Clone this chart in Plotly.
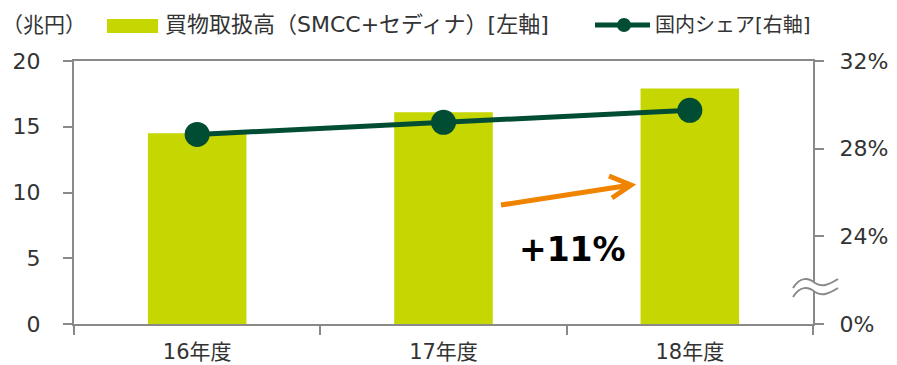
import plotly.graph_objects as go

# --- data ---
years = ["16年度", "17年度", "18年度"]
volume = [14.5, 16.1, 17.9]          # 買物取扱高（兆円）
share = [28.65, 29.2, 29.75]         # 国内シェア（%）
left_ticks = [0, 5, 10, 15, 20]
right_tickvals = [20, 24, 28, 32]
right_ticktext = ["0%", "24%", "28%", "32%"]
growth_label = "+11%"
bar_name = "買物取扱高（SMCC+セディナ）[左軸]"
line_name = "国内シェア[右軸]"
unit_label = "（兆円）"

BAR = "#c5d600"
LINE = "#004d33"
AXIS = "#898989"
TXT = "#333333"
ORANGE = "#f08300"
FONT = "DejaVu Sans, Noto Sans CJK JP, sans-serif"

W, H = 897, 365
L, R, T, B = 74, 84, 61, 41
PW, PH = W - L - R, H - T - B


def px(x):
    return (x - L) / PW


def py(y):
    return (H - B - y) / PH


fig = go.Figure()
fig.add_trace(go.Bar(x=years, y=volume, marker=dict(color=BAR, line_width=0),
                     width=0.4, name=bar_name, showlegend=False))
fig.add_trace(go.Scatter(x=years, y=share, yaxis="y2", mode="lines+markers",
                         line=dict(color=LINE, width=5),
                         marker=dict(color=LINE, size=25),
                         name=line_name, showlegend=False))

shapes = []
annotations = []

# legend: bar swatch + text
shapes.append(dict(type="rect", xref="paper", yref="paper",
                   x0=px(107), x1=px(158), y0=py(33), y1=py(19),
                   fillcolor=BAR, line_width=0))
annotations.append(dict(text=bar_name, xref="paper", yref="paper",
                        x=px(163), y=py(25), xanchor="left", yanchor="middle",
                        showarrow=False, font=dict(size=22, color=TXT, family=FONT)))
# legend: line swatch + text
shapes.append(dict(type="line", xref="paper", yref="paper",
                   x0=px(595), x1=px(650), y0=py(25), y1=py(25),
                   line=dict(color=LINE, width=5)))
shapes.append(dict(type="circle", xref="paper", yref="paper",
                   x0=px(617), x1=px(631), y0=py(32), y1=py(18),
                   fillcolor=LINE, line_width=0))
annotations.append(dict(text=line_name, xref="paper", yref="paper",
                        x=px(653), y=py(25), xanchor="left", yanchor="middle",
                        showarrow=False, font=dict(size=20, color=TXT, family=FONT)))
# unit label
annotations.append(dict(text=unit_label, xref="paper", yref="paper",
                        x=px(0), y=py(25), xanchor="left", yanchor="middle",
                        showarrow=False, font=dict(size=21, color=TXT, family=FONT)))

# growth arrow
shapes.append(dict(type="path", xref="paper", yref="paper",
                   path=f"M {px(501)},{py(205)} L {px(631)},{py(185)} "
                        f"M {px(609)},{py(176)} L {px(631)},{py(185)} L {px(612)},{py(198)}",
                   line=dict(color=ORANGE, width=5)))
annotations.append(dict(text=f"<b>{growth_label}</b>", xref="paper", yref="paper",
                        x=px(572), y=py(249), xanchor="center", yanchor="middle",
                        showarrow=False, font=dict(size=33, color="#000000", family=FONT)))


# axis break on the right axis
def wave(y0):
    return (f"M {px(793)},{py(y0 + 9)} C {px(800)},{py(y0 - 2)} {px(808)},{py(y0 - 2)} {px(815)},{py(y0 + 4)} "
            f"C {px(822)},{py(y0 + 9)} {px(830)},{py(y0 + 5)} {px(838)},{py(y0)}")


shapes.append(dict(type="path", xref="paper", yref="paper",
                   path=(f"M {px(793)},{py(288)} C {px(800)},{py(277)} {px(808)},{py(277)} {px(815)},{py(283)} "
                         f"C {px(822)},{py(288)} {px(830)},{py(284)} {px(838)},{py(279)} "
                         f"L {px(838)},{py(288)} "
                         f"C {px(830)},{py(293)} {px(822)},{py(297)} {px(815)},{py(292)} "
                         f"C {px(808)},{py(286)} {px(800)},{py(286)} {px(793)},{py(297)} Z"),
                   fillcolor="white", line_width=0, layer="above"))
shapes.append(dict(type="path", xref="paper", yref="paper", path=wave(279),
                   line=dict(color=AXIS, width=2), layer="above"))
shapes.append(dict(type="path", xref="paper", yref="paper", path=wave(288),
                   line=dict(color=AXIS, width=2), layer="above"))

tickfont = dict(size=22, color=TXT)
fig.update_layout(
    width=W, height=H,
    margin=dict(l=L, r=R, t=T, b=B, pad=0, autoexpand=False),
    paper_bgcolor="white", plot_bgcolor="white",
    font=dict(family=FONT, size=21, color=TXT),
    showlegend=False,
    xaxis=dict(showline=True, linecolor=AXIS, linewidth=2, mirror=True,
               ticks="outside", tickson="boundaries", ticklen=9, tickcolor=AXIS,
               tickwidth=2, showgrid=False, tickfont=dict(size=21, color=TXT),
               automargin=False, ticklabelstandoff=8, range=[-0.5, 2.5]),
    yaxis=dict(range=[0, 20], tickvals=left_ticks, showline=True, linecolor=AXIS,
               linewidth=2, ticks="outside", ticklen=9, tickcolor=AXIS, tickwidth=2,
               showgrid=False, zeroline=False, tickfont=tickfont, automargin=False,
               ticklabelstandoff=18),
    yaxis2=dict(range=[20, 32], overlaying="y", side="right",
                tickvals=right_tickvals, ticktext=right_ticktext,
                showline=True, linecolor=AXIS, linewidth=2, ticks="outside",
                ticklen=9, tickcolor=AXIS, tickwidth=2, showgrid=False,
                zeroline=False, tickfont=tickfont, automargin=False,
                ticklabelstandoff=11),
    shapes=shapes,
    annotations=annotations,
)

fig.write_html("out.html")
